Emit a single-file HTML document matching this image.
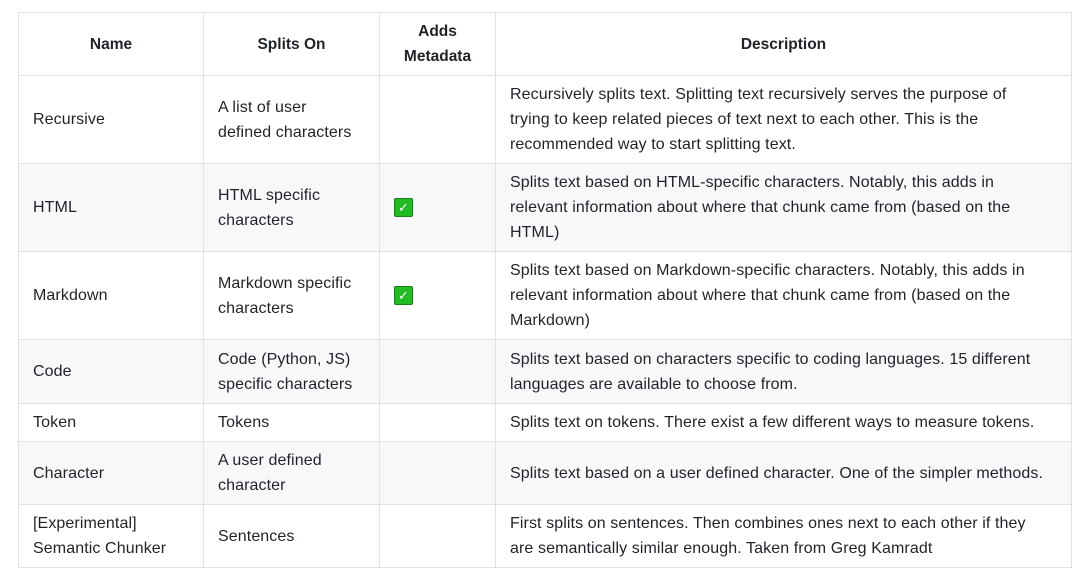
<!DOCTYPE html>
<html><head><meta charset="utf-8"><style>
body{margin:0;background:#fff;width:1080px;height:579px;overflow:hidden;font-family:"Liberation Sans",sans-serif;color:#1f2328;}
table{position:absolute;left:18px;top:12px;border-collapse:collapse;table-layout:fixed;}
td,th{border:1px solid #dfe2e5;padding:0 14px;font-size:16px;letter-spacing:0.1px;line-height:25px;white-space:nowrap;vertical-align:middle;text-align:left;}
th{font-weight:bold;text-align:center;font-size:15.5px;letter-spacing:0;}
tr.g td{background:#f6f8fa;}
.ck{display:inline-block;width:17px;height:17px;background:#22bb22;border:1px solid #1a7f1a;border-radius:2px;color:#fff;font-size:13px;line-height:17px;text-align:center;vertical-align:middle;}
</style></head><body>
<table>
<colgroup><col style="width:185px"><col style="width:176px"><col style="width:116px"><col style="width:576px"></colgroup>
<tr style="height:63px"><th>Name</th><th>Splits On</th><th>Adds<br>Metadata</th><th>Description</th></tr>
<tr style="height:88px"><td>Recursive</td><td>A list of user<br>defined characters</td><td></td><td>Recursively splits text. Splitting text recursively serves the purpose of<br>trying to keep related pieces of text next to each other. This is the<br>recommended way to start splitting text.</td></tr>
<tr class="g" style="height:88px"><td>HTML</td><td>HTML specific<br>characters</td><td><span class="ck">✓</span></td><td>Splits text based on HTML-specific characters. Notably, this adds in<br>relevant information about where that chunk came from (based on the<br>HTML)</td></tr>
<tr style="height:88px"><td>Markdown</td><td>Markdown specific<br>characters</td><td><span class="ck">✓</span></td><td>Splits text based on Markdown-specific characters. Notably, this adds in<br>relevant information about where that chunk came from (based on the<br>Markdown)</td></tr>
<tr class="g" style="height:64px"><td>Code</td><td>Code (Python, JS)<br>specific characters</td><td></td><td>Splits text based on characters specific to coding languages. 15 different<br>languages are available to choose from.</td></tr>
<tr style="height:38px"><td>Token</td><td>Tokens</td><td></td><td>Splits text on tokens. There exist a few different ways to measure tokens.</td></tr>
<tr class="g" style="height:63px"><td>Character</td><td>A user defined<br>character</td><td></td><td>Splits text based on a user defined character. One of the simpler methods.</td></tr>
<tr style="height:63px"><td>[Experimental]<br>Semantic Chunker</td><td>Sentences</td><td></td><td>First splits on sentences. Then combines ones next to each other if they<br>are semantically similar enough. Taken from Greg Kamradt</td></tr>
</table>
</body></html>
